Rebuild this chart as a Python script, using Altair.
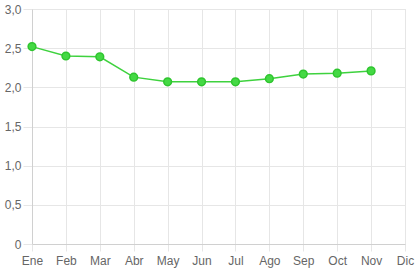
import altair as alt
import pandas as pd

months = ["Ene", "Feb", "Mar", "Abr", "May", "Jun", "Jul", "Ago", "Sep", "Oct", "Nov", "Dic"]
values = [2.52, 2.40, 2.39, 2.13, 2.07, 2.07, 2.07, 2.11, 2.17, 2.18, 2.21]

df = pd.DataFrame({"mes": months[:len(values)], "valor": values})

grid = "#e6e6e6"
txt = "#666666"
font = "Liberation Sans"

x = alt.X("mes:O", sort=months,
          scale=alt.Scale(domain=months, type="point", padding=0),
          axis=alt.Axis(title=None, labelAngle=0, grid=True, gridColor=grid,
                        tickColor=grid, tickSize=7, domainColor="#d0d0d0",
                        labelColor=txt, labelFont=font, labelFontSize=12,
                        labelPadding=4))
y = alt.Y("valor:Q", scale=alt.Scale(domain=[0, 3], nice=False),
          axis=alt.Axis(title=None, values=[0, 0.5, 1, 1.5, 2, 2.5, 3],
                        labelExpr="datum.value == 0 ? '0' : replace(format(datum.value, '.1f'), '.', ',')",
                        grid=True, gridColor=grid, tickColor=grid, tickSize=9,
                        domainColor="#d0d0d0", labelColor=txt, labelFont=font,
                        labelFontSize=12, labelPadding=2))

line = alt.Chart(df).mark_line(color="#3ed23e", strokeWidth=1.5).encode(x=x, y=y)
pts = alt.Chart(df).mark_point(filled=True, size=60, color="#44d944",
                               stroke="#2fc52f", strokeWidth=1.5, opacity=1).encode(x=x, y=y)

chart = (line + pts).properties(
    width=373, height=235,
    autosize=alt.AutoSizeParams(type="none"),
    padding={"left": 32, "top": 9, "right": 15, "bottom": 34},
).configure_view(stroke=None).configure(background="white")

chart.save("out.html", embed_options={"renderer": "svg", "actions": False})
